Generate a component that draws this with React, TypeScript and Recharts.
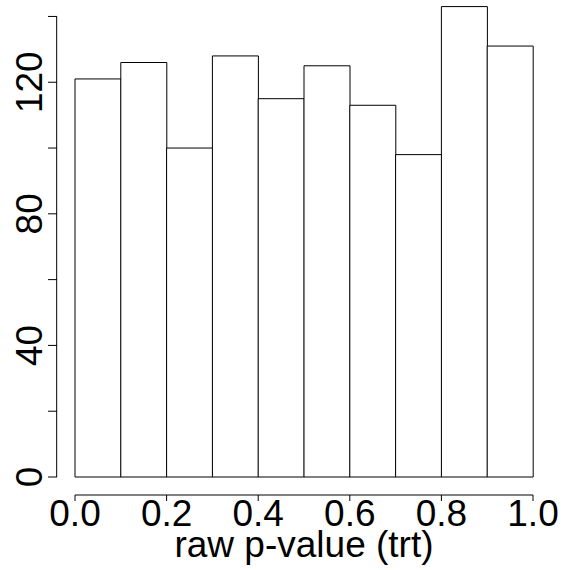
import { BarChart, Bar, XAxis, YAxis, ReferenceLine } from 'recharts';

const bins = ['0.0-0.1', '0.1-0.2', '0.2-0.3', '0.3-0.4', '0.4-0.5', '0.5-0.6', '0.6-0.7', '0.7-0.8', '0.8-0.9', '0.9-1.0'];
const binMids = [0.05, 0.15, 0.25, 0.35, 0.45, 0.55, 0.65, 0.75, 0.85, 0.95];
const counts = [121, 126, 100, 128, 115, 125, 113, 98, 143, 131];
const xTicks = [0, 0.2, 0.4, 0.6, 0.8, 1.0];
const yTicks = [0, 20, 40, 60, 80, 100, 120, 140];
const yLabelled = [0, 40, 80, 120];
const xTitle = 'raw p-value (trt)';

const FONT = '"Liberation Sans", Arial, sans-serif';
const yAxisAt = -0.04; // R puts the y axis at the left edge of the usr range

const data = bins.map((bin, i) => ({ bin, mid: binMids[i], count: counts[i] }));

function YTick(props: any) {
  const { x, y, payload } = props;
  if (!yLabelled.includes(payload.value)) return <g />;
  return (
    <text
      x={x}
      y={y}
      transform={`rotate(-90 ${x} ${y})`}
      textAnchor="middle"
      fontSize={37}
      fontFamily={FONT}
      fill="#000"
    >
      {payload.value}
    </text>
  );
}

export default function App() {
  return (
    <div style={{ position: 'absolute', left: 0, top: 0, background: '#fff' }}>
      <BarChart
        width={568}
        height={570}
        data={data}
        barCategoryGap={0}
        margin={{ top: 0, right: 35, bottom: 0, left: 0 }}
      >
        {/* invisible spacer axis: pushes the real x axis 18px below the bars, like R */}
        <XAxis dataKey="bin" height={18} tick={false} tickLine={false} axisLine={false} />
        <XAxis
          xAxisId="num"
          dataKey="mid"
          type="number"
          scale="linear"
          domain={[0, 1]}
          allowDataOverflow
          ticks={xTicks}
          interval={0}
          height={75}
          tickSize={6}
          tickMargin={-1}
          stroke="#000"
          tickFormatter={(v: number) => v.toFixed(1)}
          tick={{ fontSize: 37, fontFamily: FONT, fill: '#000' }}
          label={{ value: xTitle, position: 'bottom', offset: -39, fontSize: 37, fontFamily: FONT, fill: '#000' }}
        />
        <YAxis yAxisId="bars" domain={[0, 145]} width={18} tick={false} tickLine={false} axisLine={false} />
        <YAxis
          yAxisId="vis"
          dataKey="count"
          domain={[0, 145]}
          allowDataOverflow
          ticks={yTicks}
          interval={0}
          width={57}
          tickSize={9}
          tickMargin={6}
          axisLine={false}
          tickLine={{ stroke: '#000' }}
          tick={<YTick />}
        />
        <ReferenceLine
          xAxisId="num"
          yAxisId="vis"
          segment={[{ x: yAxisAt, y: 0 }, { x: yAxisAt, y: 140 }]}
          stroke="#000"
          ifOverflow="visible"
        />
        <Bar dataKey="count" yAxisId="bars" fill="#fff" stroke="#000" strokeWidth={1} isAnimationActive={false} />
      </BarChart>
    </div>
  );
}
